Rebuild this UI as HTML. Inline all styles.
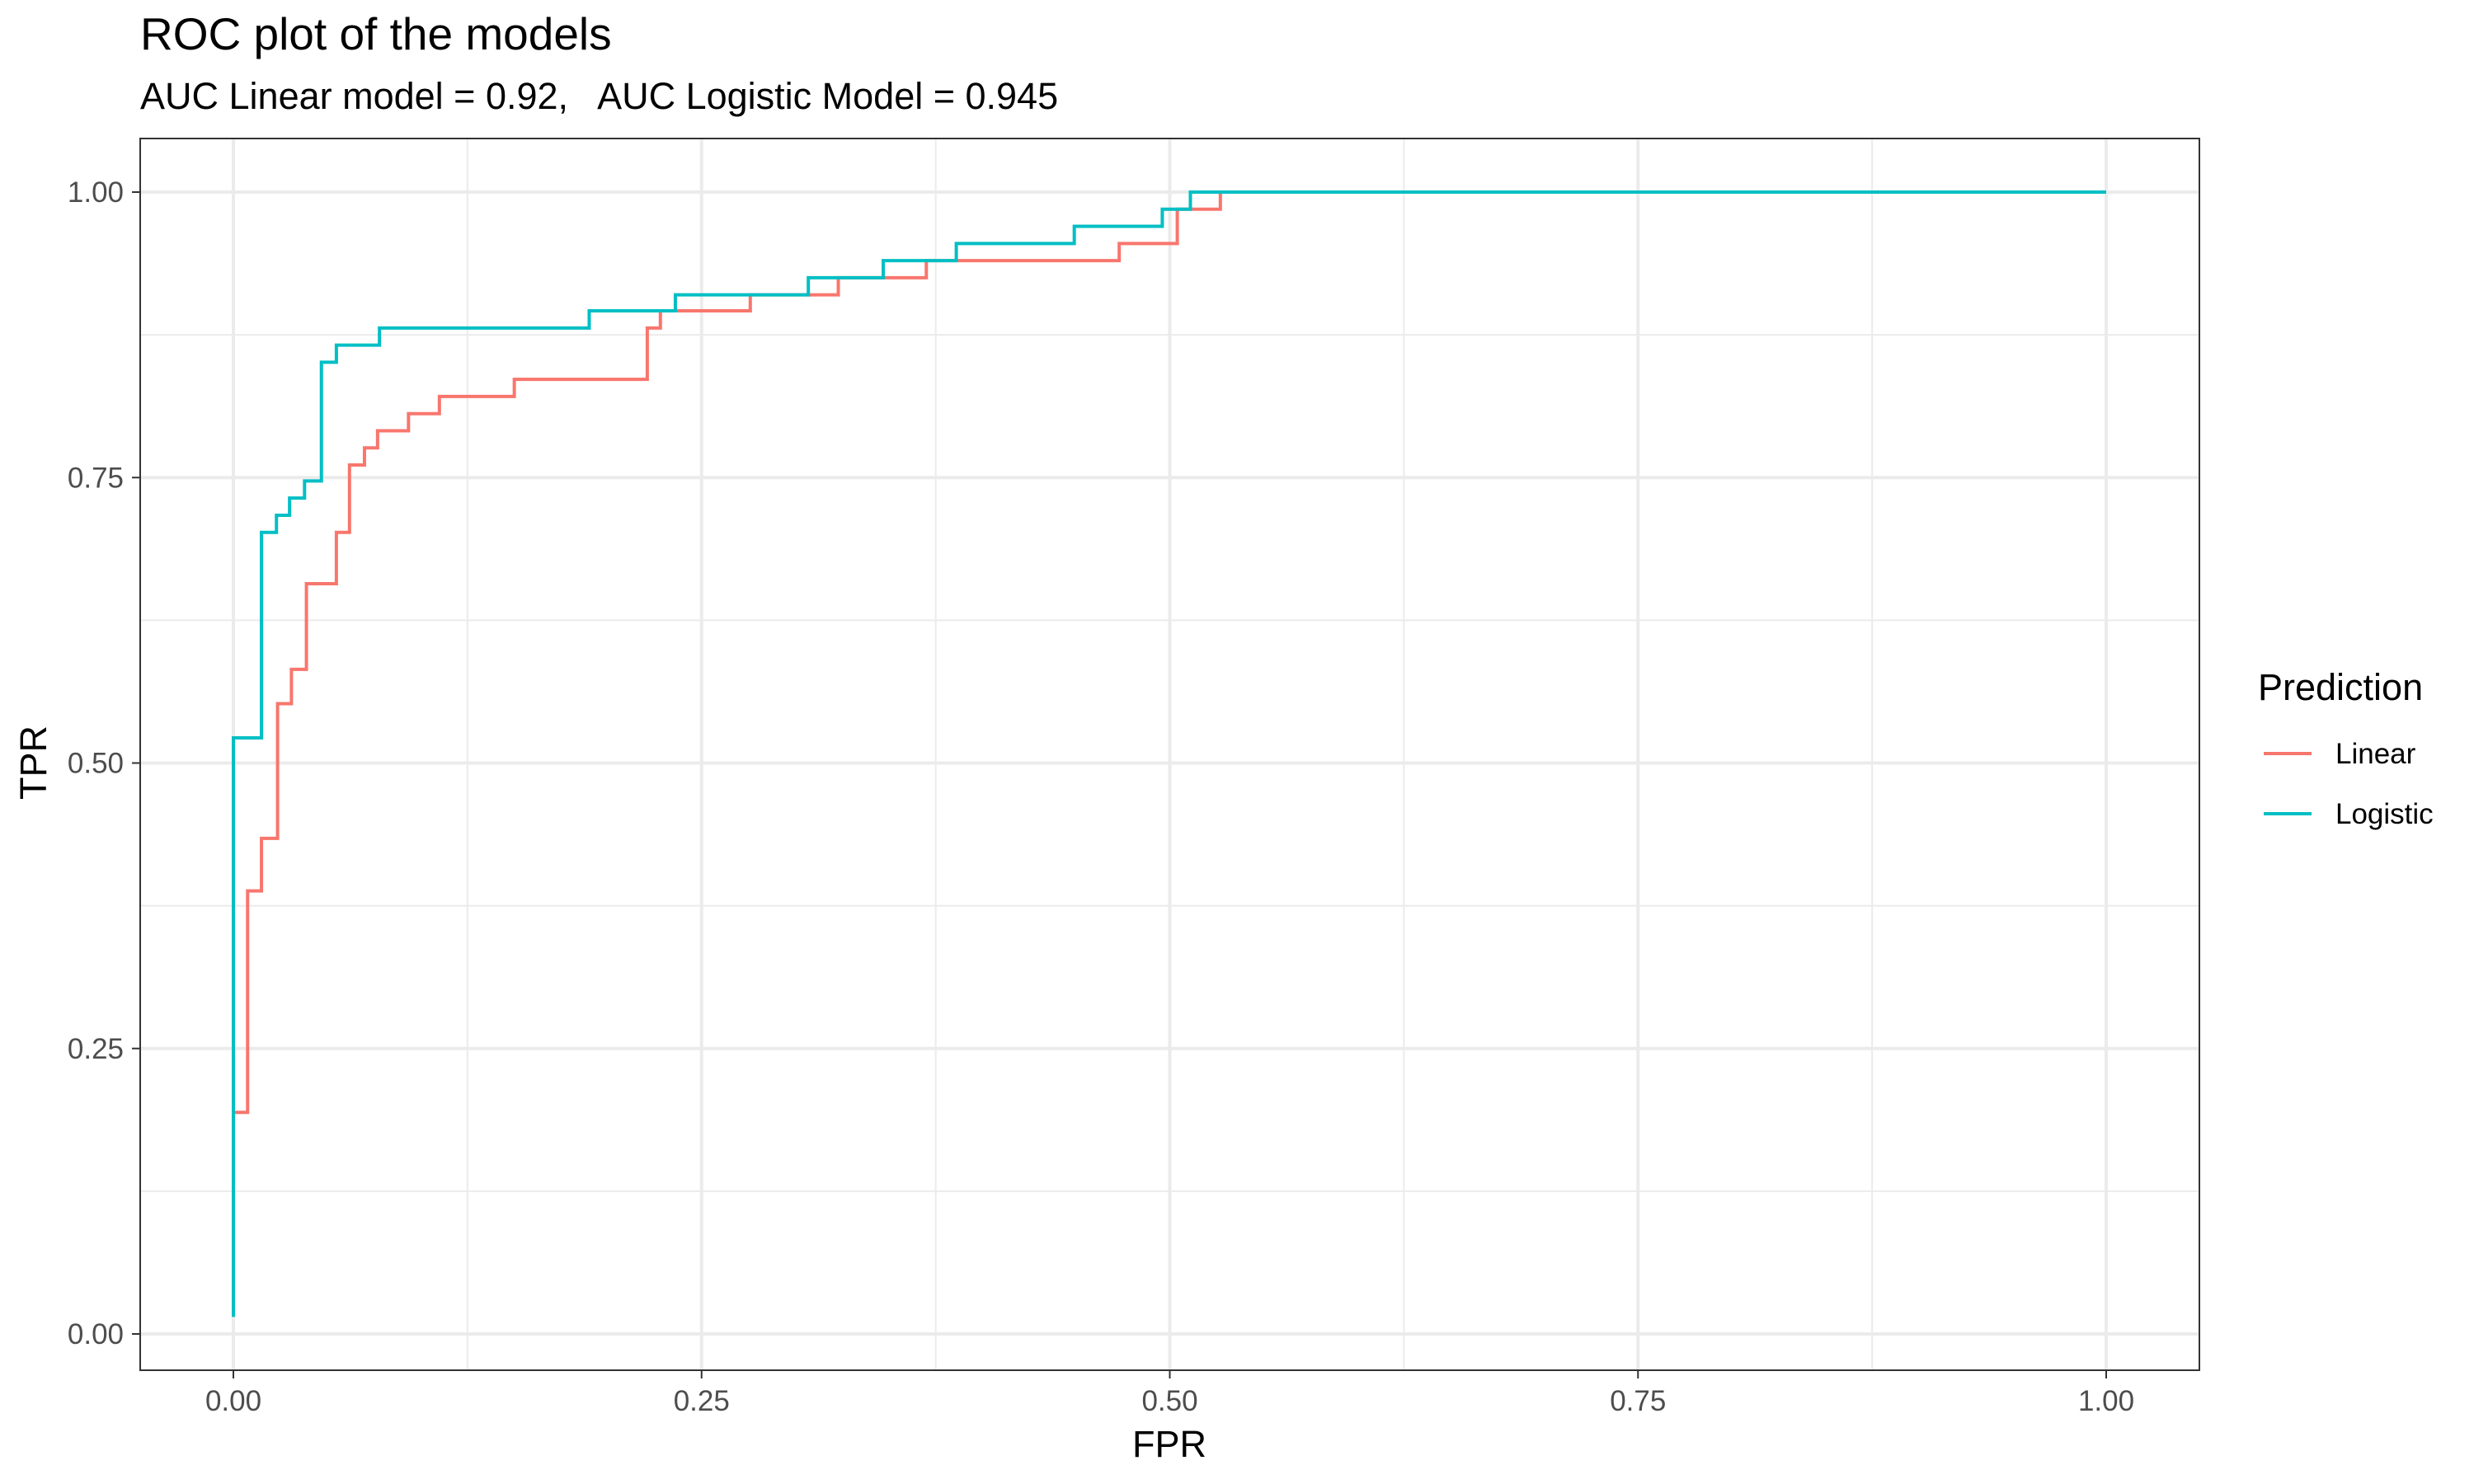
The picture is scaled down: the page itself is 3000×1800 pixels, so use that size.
<!DOCTYPE html>
<html><head><meta charset="utf-8"><style>
body{margin:0;background:#fff;}
svg{display:block;font-family:"Liberation Sans",sans-serif;}
</style></head><body>
<svg id="chart" width="3000" height="1800" viewBox="0 0 3000 1800">
<text x="170" y="60" font-size="55" fill="#000">ROC plot of the models</text>
<text x="170" y="132" font-size="45" fill="#000" style="white-space:pre" xml:space="preserve">AUC Linear model = 0.92,   AUC Logistic Model = 0.945</text>
<g id="grid"></g>
<g id="lines"></g>
<rect x="170" y="168" width="2497" height="1494" fill="none" stroke="#333" stroke-width="2"/>
<g id="axes"></g>
<text x="1418" y="1767" font-size="45" text-anchor="middle" fill="#000">FPR</text>
<text transform="translate(56,925) rotate(-90)" font-size="45" text-anchor="middle" fill="#000">TPR</text>
<g>
<text x="2738" y="849" font-size="45" fill="#000">Prediction</text>
<line x1="2745" y1="914" x2="2803" y2="914" stroke="#F8766D" stroke-width="4"/>
<text x="2832" y="926" font-size="35" fill="#000">Linear</text>
<line x1="2745" y1="987" x2="2803" y2="987" stroke="#00BFC4" stroke-width="4"/>
<text x="2832" y="999" font-size="35" fill="#000">Logistic</text>
</g>
</svg>
<script>
const tickValues = [0, 0.25, 0.5, 0.75, 1];
const tickLabels = ["0.00", "0.25", "0.50", "0.75", "1.00"];
const minorTicks = [0.125, 0.375, 0.625, 0.875];
const linearFPR = [0, 0, 0.0076, 0.015, 0.0236, 0.031, 0.039, 0.055, 0.062, 0.070, 0.077, 0.0935, 0.11, 0.15, 0.221, 0.228, 0.276, 0.323, 0.370, 0.473, 0.504, 0.527, 1];
const linearTPR = [0.015, 0.194, 0.388, 0.434, 0.552, 0.582, 0.657, 0.702, 0.761, 0.776, 0.791, 0.806, 0.821, 0.836, 0.881, 0.896, 0.910, 0.925, 0.940, 0.955, 0.985, 1, 1];
const logisticFPR = [0, 0, 0.015, 0.023, 0.030, 0.038, 0.047, 0.055, 0.078, 0.19, 0.236, 0.307, 0.347, 0.386, 0.449, 0.496, 0.511, 1];
const logisticTPR = [0.015, 0.522, 0.702, 0.717, 0.732, 0.747, 0.851, 0.866, 0.881, 0.896, 0.910, 0.925, 0.940, 0.955, 0.970, 0.985, 1, 1];

const NS = "http://www.w3.org/2000/svg";
const X0 = 283, X1 = 2554, Y0 = 1618, Y1 = 233;
const sx = v => X0 + v * (X1 - X0);
const sy = v => Y0 - v * (Y0 - Y1);
function mk(tag, attrs, parent) {
  const e = document.createElementNS(NS, tag);
  for (const k in attrs) e.setAttribute(k, attrs[k]);
  parent.appendChild(e);
  return e;
}
const grid = document.getElementById("grid");
const axes = document.getElementById("axes");
const lines = document.getElementById("lines");
mk("rect", {x:170, y:168, width:2497, height:1494, fill:"#fff"}, grid);
minorTicks.forEach(v => {
  const a = mk("line", {x1:sx(v), x2:sx(v), y1:168, y2:1662, stroke:"#ebebeb", "stroke-width":2}, grid);
  
  
  const b = mk("line", {x1:170, x2:2667, y1:sy(v), y2:sy(v), stroke:"#ebebeb", "stroke-width":2}, grid);
  
  
});
tickValues.forEach((v, i) => {
  const a = mk("line", {x1:sx(v), x2:sx(v), y1:168, y2:1662, stroke:"#ebebeb", "stroke-width":4}, grid);
  
  
  const b = mk("line", {x1:170, x2:2667, y1:sy(v), y2:sy(v), stroke:"#ebebeb", "stroke-width":4}, grid);
  
  
  const tx = mk("line", {x1:sx(v), x2:sx(v), y1:1662, y2:1672, stroke:"#333", "stroke-width":2}, axes);
  
  
  const ty = mk("line", {x1:160, x2:170, y1:sy(v), y2:sy(v), stroke:"#333", "stroke-width":2}, axes);
  
  
  const lx = mk("text", {x:sx(v), y:1711, "font-size":35, "text-anchor":"middle", fill:"#4d4d4d"}, axes);
  lx.textContent = tickLabels[i];
  
  
  const ly = mk("text", {x:150, y:sy(v) + 12, "font-size":35, "text-anchor":"end", fill:"#4d4d4d"}, axes);
  ly.textContent = tickLabels[i];
  
  
});
function stepPath(xs, ys) {
  let d = "M" + sx(xs[0]) + "," + sy(ys[0]);
  for (let i = 1; i < xs.length; i++) {
    d += " L" + sx(xs[i]) + "," + sy(ys[i - 1]) + " L" + sx(xs[i]) + "," + sy(ys[i]);
  }
  return d;
}
const pl = mk("path", {d:stepPath(linearFPR, linearTPR), fill:"none", stroke:"#F8766D", "stroke-width":4}, lines);


const pg = mk("path", {d:stepPath(logisticFPR, logisticTPR), fill:"none", stroke:"#00BFC4", "stroke-width":4}, lines);


</script>
</body></html>
